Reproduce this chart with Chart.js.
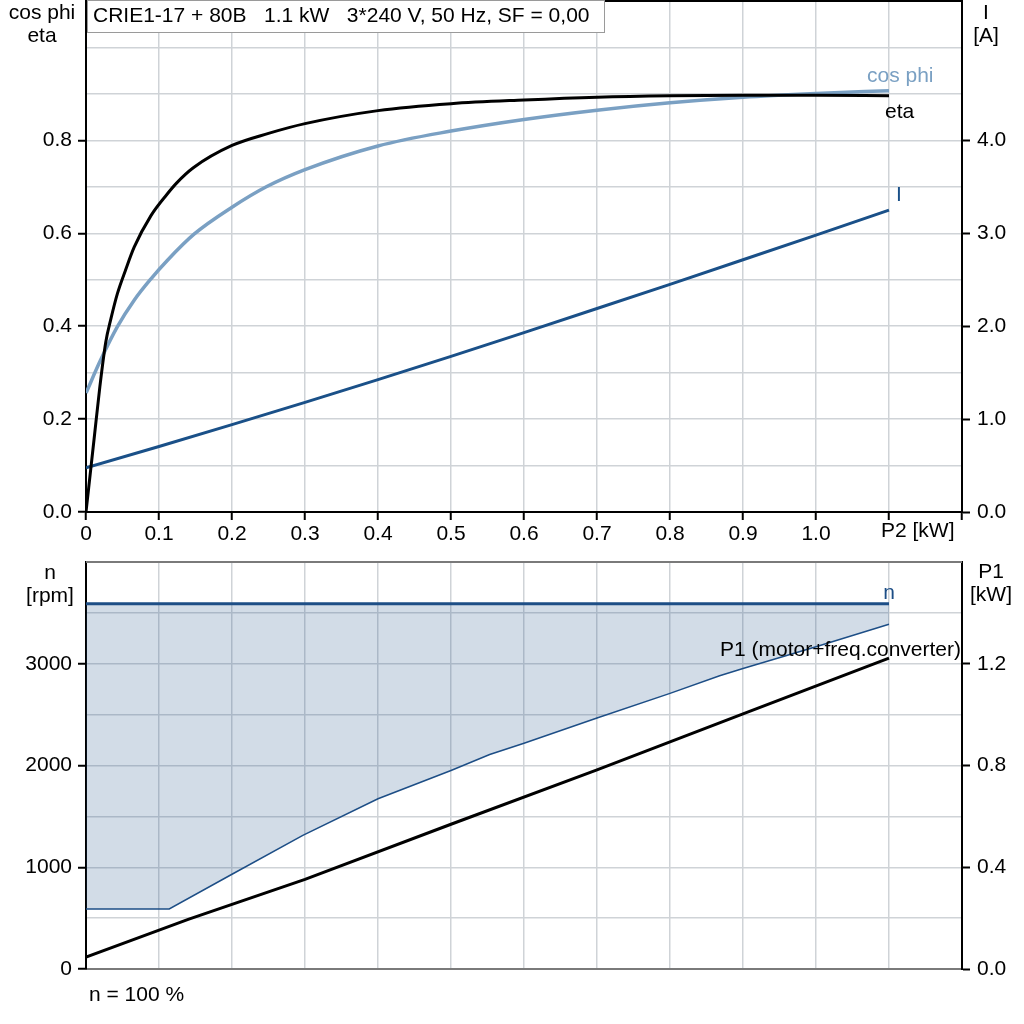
<!DOCTYPE html>
<html>
<head>
<meta charset="utf-8">
<title>CRIE1-17 + 80B</title>
<script src="https://cdn.jsdelivr.net/npm/chart.js@4.4.1/dist/chart.umd.min.js"></script>
<style>
html, body { margin: 0; padding: 0; background: #fff; }
#wrap { position: relative; width: 1024px; height: 1024px; }
canvas { position: absolute; left: 0; }
#topChart { top: 0; }
#bottomChart { top: 545px; }
</style>
</head>
<body>
<div id="wrap">
  <canvas id="topChart" width="1024" height="545"></canvas>
  <canvas id="bottomChart" width="1024" height="479"></canvas>
</div>
<script>
// ---- top panel: eta, cos phi, I against P2 ----
var etaX = [0, 0.011, 0.019, 0.027, 0.034, 0.043, 0.054, 0.066, 0.089, 0.111, 0.124, 0.147, 0.2, 0.25, 0.3, 0.4, 0.5, 0.6, 0.7, 0.8, 0.9, 1.0, 1.1];
var etaY = [0, 0.156, 0.27, 0.365, 0.415, 0.47, 0.52, 0.57, 0.638, 0.684, 0.708, 0.741, 0.789, 0.815, 0.836, 0.864, 0.879, 0.887, 0.893, 0.896, 0.897, 0.897, 0.896];
var cosX = [0, 0.02, 0.043, 0.066, 0.089, 0.111, 0.148, 0.2, 0.247, 0.3, 0.4, 0.5, 0.6, 0.7, 0.8, 0.9, 1.0, 1.1];
var cosY = [0.256, 0.327, 0.399, 0.456, 0.502, 0.541, 0.598, 0.656, 0.700, 0.737, 0.788, 0.82, 0.845, 0.865, 0.881, 0.893, 0.901, 0.907];
var curX = [0, 0.1, 0.2, 0.3, 0.4, 0.5, 0.6, 0.7, 0.8, 0.9, 1.0, 1.1];
var curY = [0.476, 0.705, 0.94, 1.18, 1.425, 1.675, 1.93, 2.19, 2.45, 2.715, 2.98, 3.25];

var p2TickValues = [0, 0.1, 0.2, 0.3, 0.4, 0.5, 0.6, 0.7, 0.8, 0.9, 1.0, 1.1];
var p2TickLabels = ['0', '0.1', '0.2', '0.3', '0.4', '0.5', '0.6', '0.7', '0.8', '0.9', '1.0', 'P2 [kW]'];
var cosTickValues = [0, 0.2, 0.4, 0.6, 0.8];
var cosTickLabels = ['0.0', '0.2', '0.4', '0.6', '0.8'];
var ampTickValues = [0, 1, 2, 3, 4];
var ampTickLabels = ['0.0', '1.0', '2.0', '3.0', '4.0'];

// ---- bottom panel: n, speed range, P1 ----
var speedX = [0, 1.1];
var speedY = [3590, 3590];
var minSpeedX = [0, 0.114, 0.2, 0.297, 0.4, 0.5, 0.553, 0.6, 0.7, 0.8, 0.868, 0.9, 1.0, 1.1];
var minSpeedY = [590, 590, 931, 1314, 1673, 1951, 2108, 2219, 2467, 2709, 2882, 2954, 3167, 3389];
var p1X = [0, 0.14, 0.3, 0.5, 0.7, 0.9, 1.1];
var p1Y = [0.047, 0.195, 0.352, 0.569, 0.783, 1.003, 1.222];

var rpmTickValues = [0, 1000, 2000, 3000];
var rpmTickLabels = ['0', '1000', '2000', '3000'];
var p1TickValues = [0, 0.4, 0.8, 1.2];
var p1TickLabels = ['0.0', '0.4', '0.8', '1.2'];

var titleText = 'CRIE1-17 + 80B   1.1 kW   3*240 V, 50 Hz, SF = 0,00';

var FONT = "21px 'Liberation Sans', Arial, sans-serif";
var GRID = '#cfd3d7';
var COS_COLOR = '#7aa0c3';
var AMP_COLOR = '#1a5088';
var N_COLOR = '#1d4e86';

Chart.defaults.font.family = "'Liberation Sans', Arial, sans-serif";
Chart.defaults.font.size = 21;
Chart.defaults.color = '#000';

function pts(xs, ys) {
  return xs.map(function (x, i) { return { x: x, y: ys[i] }; });
}

function findIndex(values, v) {
  for (var i = 0; i < values.length; i++) {
    if (Math.abs(values[i] - v) < 1e-6) return i;
  }
  return -1;
}

function tickLabel(values, labels, skipLast) {
  return function (value) {
    var i = findIndex(values, value);
    if (i < 0 || (skipLast && i === values.length - 1)) return '';
    return labels[i];
  };
}

function tickMark(values) {
  return function (ctx) {
    if (!ctx.tick) return 'rgba(0,0,0,0)';
    return findIndex(values, ctx.tick.value) >= 0 ? '#000' : 'rgba(0,0,0,0)';
  };
}

function fixWidth(w) {
  return function (scale) { scale.width = w; scale.paddingTop = 0; scale.paddingBottom = 0; };
}

function fixHeight(h) {
  return function (scale) { scale.height = h; scale.paddingLeft = 0; scale.paddingRight = 0; };
}

function drawText(ctx, text, x, y, align, color) {
  ctx.save();
  ctx.font = FONT;
  ctx.fillStyle = color || '#000';
  ctx.textAlign = align || 'left';
  ctx.textBaseline = 'middle';
  ctx.fillText(text, x, y);
  ctx.restore();
}

function line(data, color, width, extra) {
  var ds = {
    data: data,
    borderColor: color,
    borderWidth: width,
    pointRadius: 0,
    fill: false,
    tension: 0
  };
  for (var k in extra) ds[k] = extra[k];
  return ds;
}

var topDecor = {
  id: 'topDecor',
  afterDraw: function (chart) {
    var ctx = chart.ctx, a = chart.chartArea;
    var x = chart.scales.x, y = chart.scales.y, y2 = chart.scales.y2;
    ctx.save();
    ctx.strokeStyle = '#000';
    ctx.lineWidth = 2;
    ctx.beginPath();
    ctx.moveTo(a.left, a.top);
    ctx.lineTo(a.right, a.top);
    ctx.stroke();
    // title box
    ctx.fillStyle = '#fff';
    ctx.fillRect(a.left + 1, 0, 518, 33);
    ctx.strokeStyle = '#9a9a9a';
    ctx.lineWidth = 1;
    ctx.strokeRect(a.left + 1.5, 0.5, 517, 32);
    ctx.restore();
    drawText(ctx, titleText, a.left + 7, 16, 'left');

    drawText(ctx, 'cos phi', 42, 13, 'center');
    drawText(ctx, 'eta', 42, 36, 'center');
    drawText(ctx, 'I', 986, 13, 'center');
    drawText(ctx, '[A]', 986, 36, 'center');

    var last = p2TickLabels.length - 1;
    drawText(ctx, p2TickLabels[last], x.getPixelForValue(p2TickValues[last]) - 8, a.bottom + 19, 'left');

    var c = cosX.length - 1, e = etaX.length - 1, k = curX.length - 1;
    drawText(ctx, 'cos phi', x.getPixelForValue(cosX[c]) - 22, y.getPixelForValue(cosY[c]) - 14, 'left', COS_COLOR);
    drawText(ctx, 'eta', x.getPixelForValue(etaX[e]) - 4, y.getPixelForValue(etaY[e]) + 16, 'left', '#000');
    drawText(ctx, 'I', x.getPixelForValue(curX[k]) + 10, y2.getPixelForValue(curY[k]) - 15, 'center', AMP_COLOR);
  }
};

var bottomDecor = {
  id: 'bottomDecor',
  afterDraw: function (chart) {
    var ctx = chart.ctx, a = chart.chartArea;
    var x = chart.scales.x, y = chart.scales.y, y2 = chart.scales.y2;
    ctx.save();
    ctx.strokeStyle = '#7a7a7a';
    ctx.lineWidth = 2;
    ctx.beginPath();
    ctx.moveTo(a.left, a.top);
    ctx.lineTo(a.right, a.top);
    ctx.stroke();
    ctx.restore();

    drawText(ctx, 'n', 50, 28, 'center');
    drawText(ctx, '[rpm]', 50, 51, 'center');
    drawText(ctx, 'P1', 991, 27, 'center');
    drawText(ctx, '[kW]', 991, 50, 'center');

    var s = speedX.length - 1, p = p1X.length - 1;
    drawText(ctx, 'n', x.getPixelForValue(speedX[s]), y.getPixelForValue(speedY[s]) - 11, 'center', N_COLOR);
    drawText(ctx, 'P1 (motor+freq.converter)', a.right - 1, y2.getPixelForValue(p1Y[p]) - 8, 'right', '#000');
    drawText(ctx, 'n = 100 %', a.left + 3, a.bottom + 26, 'left');
  }
};

new Chart(document.getElementById('topChart'), {
  type: 'line',
  data: {
    datasets: [
      line(pts(etaX, etaY), '#000', 3, { yAxisID: 'y', cubicInterpolationMode: 'monotone' }),
      line(pts(cosX, cosY), COS_COLOR, 3.5, { yAxisID: 'y', cubicInterpolationMode: 'monotone' }),
      line(pts(curX, curY), AMP_COLOR, 3, { yAxisID: 'y2' })
    ]
  },
  options: {
    responsive: false,
    animation: false,
    layout: { padding: { top: 1, left: 0, right: 0, bottom: 0 } },
    plugins: { legend: { display: false }, tooltip: { enabled: false } },
    scales: {
      x: {
        type: 'linear', min: 0, max: 1.2,
        afterFit: fixHeight(33),
        ticks: { stepSize: 0.1, autoSkip: false, maxRotation: 0, minRotation: 0, padding: 2,
                 callback: tickLabel(p2TickValues, p2TickLabels, true) },
        grid: { color: GRID, lineWidth: 1.5, tickLength: 8, tickColor: '#000', tickWidth: 2 },
        border: { color: '#000', width: 2 }
      },
      y: {
        position: 'left', min: 0, max: 1.1,
        afterFit: fixWidth(86),
        ticks: { stepSize: 0.1, autoSkip: false, padding: 6, callback: tickLabel(cosTickValues, cosTickLabels) },
        grid: { color: GRID, lineWidth: 1.5, tickLength: 8, tickColor: tickMark(cosTickValues), tickWidth: 2 },
        border: { color: '#000', width: 2 }
      },
      y2: {
        position: 'right', min: 0, max: 5.5,
        afterFit: fixWidth(62),
        ticks: { stepSize: 1, autoSkip: false, padding: 7, callback: tickLabel(ampTickValues, ampTickLabels) },
        grid: { drawOnChartArea: false, tickLength: 8, tickColor: tickMark(ampTickValues), tickWidth: 2 },
        border: { color: '#000', width: 2 }
      }
    }
  },
  plugins: [topDecor]
});

new Chart(document.getElementById('bottomChart'), {
  type: 'line',
  data: {
    datasets: [
      line(pts(speedX, speedY), N_COLOR, 3, { yAxisID: 'y' }),
      line(pts(minSpeedX, minSpeedY), N_COLOR, 1.5, { yAxisID: 'y', fill: '-1', backgroundColor: 'rgba(29,78,134,0.2)' }),
      line(pts(p1X, p1Y), '#000', 3, { yAxisID: 'y2' })
    ]
  },
  options: {
    responsive: false,
    animation: false,
    layout: { padding: { top: 17, left: 0, right: 0, bottom: 0 } },
    plugins: { legend: { display: false }, tooltip: { enabled: false }, filler: { propagate: false } },
    scales: {
      x: {
        type: 'linear', min: 0, max: 1.2,
        afterFit: fixHeight(55),
        ticks: { stepSize: 0.1, autoSkip: false, display: false },
        grid: { color: GRID, lineWidth: 1.5, drawTicks: false },
        border: { color: '#7a7a7a', width: 2 }
      },
      y: {
        position: 'left', min: 0, max: 4000,
        afterFit: fixWidth(86),
        ticks: { stepSize: 500, autoSkip: false, padding: 6, callback: tickLabel(rpmTickValues, rpmTickLabels) },
        grid: { color: GRID, lineWidth: 1.5, tickLength: 8, tickColor: tickMark(rpmTickValues), tickWidth: 2 },
        border: { color: '#000', width: 2 }
      },
      y2: {
        position: 'right', min: 0, max: 1.6,
        afterFit: fixWidth(62),
        ticks: { stepSize: 0.4, autoSkip: false, padding: 7, callback: tickLabel(p1TickValues, p1TickLabels) },
        grid: { drawOnChartArea: false, tickLength: 8, tickColor: tickMark(p1TickValues), tickWidth: 2 },
        border: { color: '#000', width: 2 }
      }
    }
  },
  plugins: [bottomDecor]
});
</script>
</body>
</html>
